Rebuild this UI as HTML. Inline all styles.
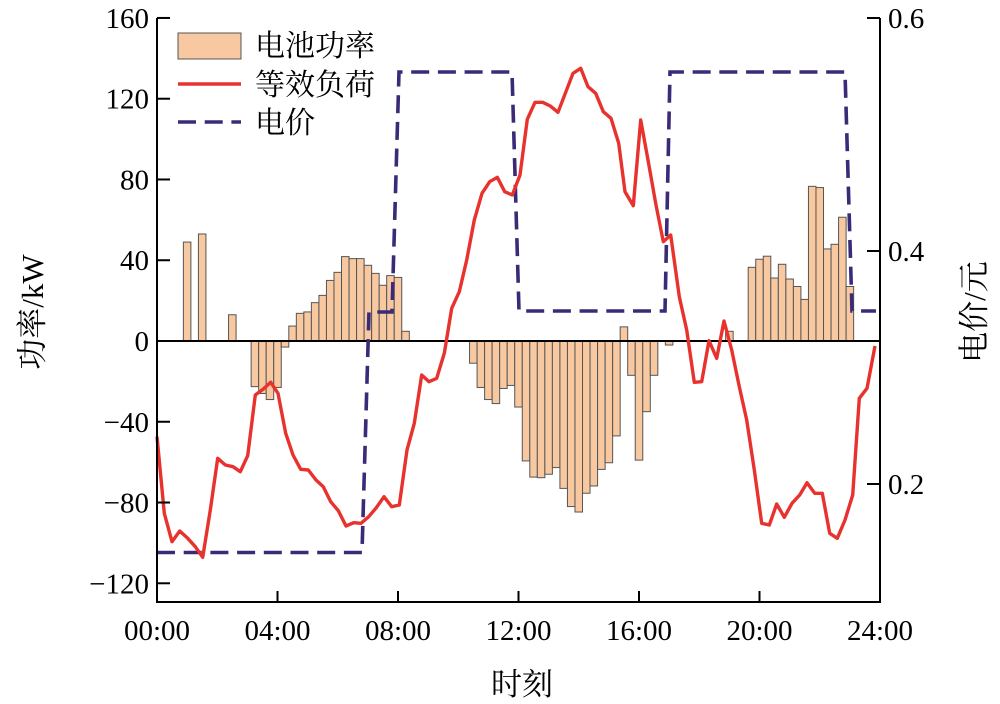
<!DOCTYPE html>
<html><head><meta charset="utf-8"><style>
html,body{margin:0;padding:0;background:#fff;}
svg{display:block;}
text{font-family:"Liberation Serif","Noto Serif CJK SC","Noto Sans CJK SC",serif;fill:#000;}
</style></head><body>
<svg width="1000" height="704" viewBox="0 0 1000 704" xmlns="http://www.w3.org/2000/svg">
<g id="bars" fill="#f8c9a0" stroke="#555" stroke-width="1"></g>
<line x1="157" y1="341" x2="880" y2="341" stroke="#000" stroke-width="2"/>
<polyline fill="none" stroke="#3b2a78" stroke-width="3.6" stroke-dasharray="18,8.7"
 points="157,552.5 362,552.5 369,312 392,312 399,72 512,72 519,311 665,311 670,72 845,72 852,311 876,311"/>
<polyline fill="none" stroke="#e8322e" stroke-width="3.4" stroke-linejoin="round"
 points="157,436.7 164.3,513.3 172,541.7 179.7,531 187.7,538.3 195.3,546.7 202.7,557.3 210.3,510 217.7,458.3 225.3,465 233,466.7 240.3,471.7 247.7,455.7 255.3,395 263,389.3 270.7,382.3 278,393.3 285.7,433.3 293,455 300.7,469.3 308.3,470 316,480 323.3,486.7 330.7,501.7 338.3,510.7 346,526 353.7,522.7 361,523.3 368.7,516.7 376.3,507.7 384,496.7 391.7,506.7 399.3,505 407,450 414.3,423.3 421.7,375 429,381.7 436.7,378.3 444.3,353.3 451.7,308.3 459.3,291.7 466.7,260 474.3,220 482,193.3 489.7,181.7 497.3,177.3 504.7,191.7 512.3,195 520,175 527.3,119.3 535,102.3 542.7,102.3 550.3,106 558,112.3 565.3,93.3 573,73.3 580.7,68.3 588,86.7 595.7,93.3 603.3,111.7 611,118.3 618.7,143.3 625,191.7 633.3,205.7 640.7,120 648.3,161.7 656,205 663.3,241.7 670.7,235 679.3,296.7 686.7,330 694.3,382.3 701.7,381.7 709,340.7 716.7,358.3 724,321 731.7,350 739.3,386.7 746.7,420 754.3,470 761.7,523.3 769.3,525 776.7,504 784.3,517.3 792,503.3 799.7,495 807,482.7 814.7,493.3 822.3,493.3 829.7,533.3 837.3,538.3 845,520 852.7,495 859.3,398.3 867,388.3 875,346"/>
<g stroke="#000" stroke-width="2" fill="none">
<line x1="157" y1="18" x2="157" y2="603"/>
<line x1="880" y1="18" x2="880" y2="603"/>
<line x1="156" y1="602" x2="881" y2="602"/>
</g>
<g id="ticks" stroke="#000" stroke-width="2"></g>
<g id="labels" font-size="29"></g>
<text x="36" y="312" font-size="31" text-anchor="middle" transform="rotate(-90 36 312)" dominant-baseline="middle">功率/kW</text>
<text x="978" y="312" font-size="31" text-anchor="middle" transform="rotate(-90 978 312)" dominant-baseline="middle">电价/元</text>
<text x="522" y="695" font-size="31" text-anchor="middle">时刻</text>
<rect x="178" y="33" width="63" height="26" fill="#f8c9a0" stroke="#555" stroke-width="1"/>
<text x="255" y="56" font-size="30">电池功率</text>
<line x1="178" y1="84" x2="241" y2="84" stroke="#e8322e" stroke-width="3.4"/>
<text x="255" y="95" font-size="30">等效负荷</text>
<line x1="178" y1="122" x2="241" y2="122" stroke="#3b2a78" stroke-width="3.6" stroke-dasharray="18,8.7"/>
<text x="255" y="133" font-size="30">电价</text>
</svg>
<script>
var ns="http://www.w3.org/2000/svg";
function el(t,a,p,txt){var e=document.createElementNS(ns,t);for(var k in a)e.setAttribute(k,a[k]);if(txt!=null)e.textContent=txt;document.getElementById(p).appendChild(e);return e;}
var bars={4:49,6:53,10:13,13:-22.6,14:-26,15:-29,16:-23,17:-3,18:7.4,19:13.7,20:14.4,21:19,22:22.6,23:30,24:34,25:41.8,26:40.8,27:40.8,28:37.5,29:33.5,30:27.6,31:32.4,32:31.5,33:4.8,
42:-11,43:-23,44:-29,45:-31,46:-23.5,47:-22,48:-32.7,49:-59.4,50:-67.4,51:-67.7,52:-66,53:-62.7,54:-73,55:-82,56:-84.7,57:-75.4,58:-71.8,59:-63.6,60:-60.3,61:-47,62:7,63:-17,64:-59,65:-35,66:-17,68:-2,
76:4.8,79:36.5,80:40.5,81:42,82:31.2,83:38,84:30.7,85:27,86:20.6,87:76.6,88:76,89:45.6,90:47.9,91:61.3,92:27};
var dx=723/96,k=2.019;
for(var i in bars){var v=bars[i];var cx=157+i*dx;var h=Math.abs(v)*k;var y=v>0?341-h:341;
el('rect',{x:(cx-dx/2).toFixed(2),y:y.toFixed(2),width:dx.toFixed(2),height:h.toFixed(2)},'bars');}
for(var v=-120;v<=160;v+=40){var y=341-v*k;el('line',{x1:157,y1:y,x2:170,y2:y},'ticks');
el('text',{x:149,y:y+10,'text-anchor':'end'},'labels',(v<0?'\u2212'+(-v):''+v));}
[[0.6,18],[0.4,251],[0.2,484]].forEach(function(p){el('line',{x1:867,y1:p[1],x2:880,y2:p[1]},'ticks');
el('text',{x:888,y:p[1]+10},'labels',p[0].toFixed(1));});
var lbl=['00:00','04:00','08:00','12:00','16:00','20:00','24:00'];
for(var j=0;j<7;j++){var x=157+j*120.5;el('line',{x1:x,y1:602,x2:x,y2:591},'ticks');
el('text',{x:x,y:640,'text-anchor':'middle'},'labels',lbl[j]);}
</script>
</body></html>
